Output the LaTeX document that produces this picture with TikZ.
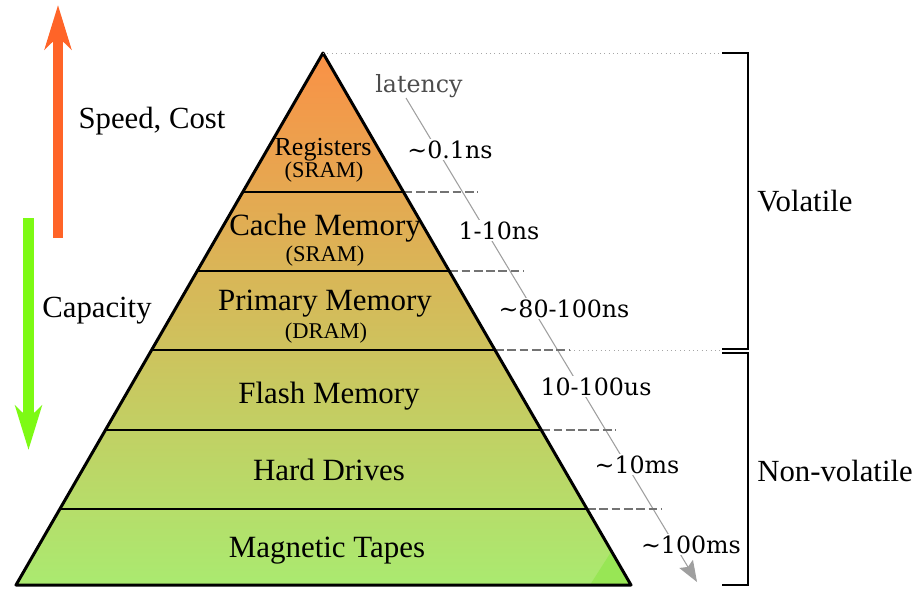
\documentclass[tikz,border=0pt]{standalone}
\usepackage{fontspec}
\setmainfont{Liberation Serif}
\newfontfamily\latfont{DejaVu Serif}
\usetikzlibrary{arrows.meta}
\usetikzlibrary{calc}

\definecolor{tiptop}{RGB}{250,145,70}
\definecolor{tipbottom}{RGB}{170,234,112}
\definecolor{speedcol}{RGB}{255,100,40}
\definecolor{capcol}{RGB}{125,250,20}

\tikzset{
    layer/.style={font=\fontsize{17.6}{20}\selectfont, anchor=base, inner sep=0pt},
    kind/.style={font=\fontsize{12.8}{15}\selectfont, anchor=base, inner sep=0pt},
    side/.style={font=\fontsize{17.5}{20}\selectfont, anchor=base, inner sep=0pt},
    lat/.style={font=\latfont\fontsize{13.5}{16}\selectfont, anchor=base, fill=white, inner sep=1pt},
    tick/.style={draw=gray!90!black, dash pattern=on 5pt off 2pt, line width=1.1pt},
    brace/.style={draw=black, line width=0.9pt}
}

\begin{document}
\begin{tikzpicture}[x=0.02cm,y=-0.02cm]
    \useasboundingbox (0,0) rectangle (918,588);

    \coordinate (top) at (323,53);
    \coordinate (bl) at (16,585);
    \coordinate (br) at (631,585);

    % pyramid body
    \shade[top color=tiptop, bottom color=tipbottom] (top) -- (br) -- (bl) -- cycle;
    \fill[fill={rgb,255:red,152;green,230;blue,85}] (590,585) -- (611,552) -- (631,585) -- cycle;

    % latency axis
    \coordinate (lat-a) at (406,98);
    \coordinate (lat-b) at (697,582);
    \draw[gray!75, line width=0.6pt, -{Stealth[length=12pt,width=9pt,inset=2pt]}] (lat-a) -- (lat-b);

    % layer borders and latency ticks
    \foreach \y [count=\i] in {192,271,350,430,509} {
        \coordinate (l\i) at ($(top)!{(\y-53)/532}!(bl)$);
        \coordinate (r\i) at ($(top)!{(\y-53)/532}!(br)$);
        \coordinate (d\i) at ($(r\i)+(75,0)$);
        \draw[line width=0.9pt] (l\i) -- (r\i);
        \draw[tick] (r\i) -- (d\i);
    }
    \draw[line width=1.7pt, line join=round] (top) -- (br) -- (bl) -- cycle;

    % volatile / non-volatile
    \coordinate (v-top) at (722,53);
    \coordinate (v-bot) at (722,349);
    \coordinate (n-top) at (722,353);
    \coordinate (n-bot) at (722,585);
    \draw[gray!70, dotted, line width=0.5pt] (top) -- (v-top);
    \draw[gray!70, dotted, line width=0.5pt] (d3) -- (r3 -| v-bot);
    \draw[brace] (v-top) -| (748,349) -- (v-bot);
    \draw[brace] (n-top) -| (748,585) -- (n-bot);
    \node[side, anchor=base west] (volatile) at (757,211) {Volatile};
    \node[side, anchor=base west] (nonvolatile) at (757,481) {Non-volatile};

    % layer names
    \node[layer, font=\fontsize{14.8}{17}\selectfont] (reg) at (323,155) {Registers};
    \node[kind] (reg-type) at (324,177) {(SRAM)};
    \node[layer] (cache) at (325,235) {Cache Memory};
    \node[kind] (cache-type) at (325,261) {(SRAM)};
    \node[layer] (prim) at (325,310) {Primary Memory};
    \node[kind] (prim-type) at (326,338) {(DRAM)};
    \node[layer] (flash) at (329,403) {Flash Memory};
    \node[layer] (hdd) at (329,480) {Hard Drives};
    \node[layer] (tape) at (327,557) {Magnetic Tapes};

    % latency values
    \node[lat, fill=none, text=gray!60!black] (latency) at (419,92) {latency};
    \node[lat] (t-reg) at (450,158) {\textasciitilde 0.1ns};
    \node[lat] (t-cache) at (499,239) {1-10ns};
    \node[lat] (t-prim) at (564,317) {\textasciitilde 80-100ns};
    \node[lat] (t-flash) at (596,395) {10-100us};
    \node[lat] (t-hdd) at (637,473) {\textasciitilde 10ms};
    \node[lat] (t-tape) at (691,553) {\textasciitilde 100ms};

    % speed / capacity
    \coordinate (s-a) at (58,238);
    \coordinate (s-b) at (58,5);
    \coordinate (c-a) at (28.5,218);
    \coordinate (c-b) at (28.5,450);
    \draw[speedcol, line width=5.7pt, -{Stealth[length=25pt,width=15pt,inset=7pt]}] (s-a) -- (s-b);
    \draw[capcol, line width=6pt, -{Stealth[length=25pt,width=15pt,inset=7pt]}] (c-a) -- (c-b);
    \node[side] (speed) at (152,128) {Speed, Cost};
    \node[side] (capacity) at (97,317) {Capacity};
\end{tikzpicture}
\end{document}
